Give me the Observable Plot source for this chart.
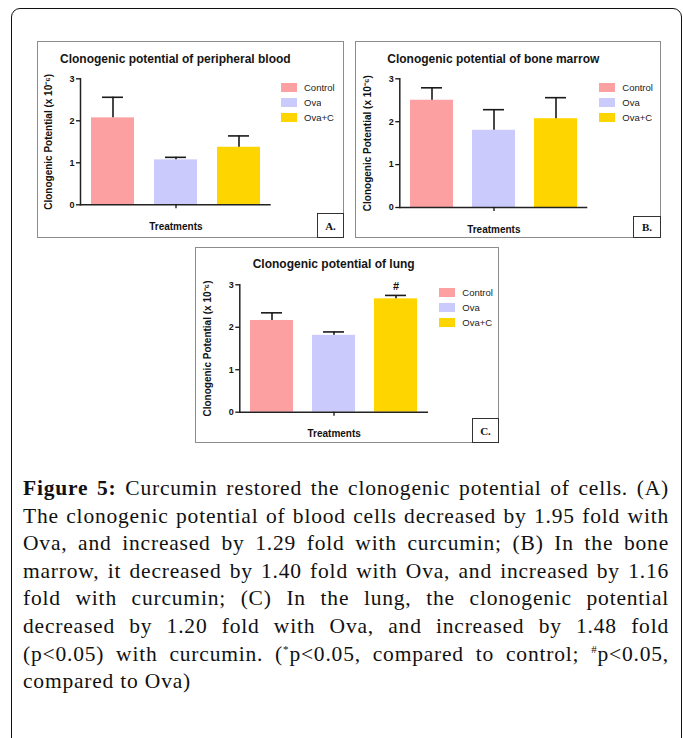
<!DOCTYPE html>
<html><head><meta charset="utf-8">
<script src="https://cdn.jsdelivr.net/npm/d3@7"></script>
<script src="https://cdn.jsdelivr.net/npm/@observablehq/plot@0.6"></script>
<style>
body{margin:0;background:#fff;width:683px;height:738px;overflow:hidden;position:relative;font-family:"Liberation Sans",Arial,sans-serif;}
#frame{position:absolute;left:11px;top:8px;width:671px;height:800px;border:1.5px solid #111;border-radius:9px;box-sizing:border-box;}
.panel{position:absolute;border:1px solid #8c8c8c;box-sizing:border-box;background:#fff;}
.panel > svg{position:absolute;left:0;top:0;overflow:visible;}
.ptitle{position:absolute;font-weight:bold;font-size:12px;white-space:nowrap;line-height:14px;color:#151515;transform:translateX(-50%);}
.tag{position:absolute;right:-1px;bottom:-1px;border:1px solid #333;box-sizing:border-box;font-family:"Liberation Serif",serif;font-weight:bold;font-size:11px;display:flex;align-items:center;justify-content:center;color:#111;background:#fff;}
.legwrap{position:absolute;}
.lg-swatches{margin:0 !important;font-family:"Liberation Sans",Arial,sans-serif !important;font-size:9.5px !important;color:#222;}
.lg-swatch{height:15.2px;padding-bottom:0 !important;margin:0 !important;}
.lg-swatch > svg{margin-right:7px !important;}
#caption{position:absolute;left:23px;top:475px;width:646px;font-family:"Liberation Serif","Times New Roman",serif;font-size:21.5px;line-height:27.6px;color:#111;letter-spacing:0.8px;}
#caption .ln{text-align:justify;text-align-last:justify;}
#caption .ln.last{text-align-last:left;}
#caption sup{font-size:11px;vertical-align:8px;line-height:0;}
</style>
</head>
<body>
<div id="frame"></div>
<div id="caption">
<div class="ln"><b>Figure 5:</b> Curcumin restored the clonogenic potential of cells. (A)</div>
<div class="ln">The clonogenic potential of blood cells decreased by 1.95 fold with</div>
<div class="ln">Ova, and increased by 1.29 fold with curcumin; (B) In the bone</div>
<div class="ln">marrow, it decreased by 1.40 fold with Ova, and increased by 1.16</div>
<div class="ln">fold with curcumin; (C) In the lung, the clonogenic potential</div>
<div class="ln">decreased by 1.20 fold with Ova, and increased by 1.48 fold</div>
<div class="ln">(p&lt;0.05) with curcumin. (<sup>*</sup>p&lt;0.05, compared to control; <sup>#</sup>p&lt;0.05,</div>
<div class="ln last">compared to Ova)</div>
</div>
<script>
const treatments = ["Control", "Ova", "Ova+C"];
const colors = ["#FCA0A2", "#CACAFD", "#FFD500"];
const yTicks = [0, 1, 2, 3];
const bloodMean = [2.07, 1.07, 1.37];
const bloodErr = [0.49, 0.06, 0.27];
const marrowMean = [2.50, 1.80, 2.07];
const marrowErr = [0.29, 0.48, 0.49];
const lungMean = [2.16, 1.81, 2.67];
const lungErr = [0.18, 0.08, 0.08];
const lungSig = ["", "", "#"];
const yLabel = "Clonogenic Potential (x 10⁻⁶)";
const xLabel = "Treatments";

function makePanel(o) {
  const div = document.createElement("div");
  div.className = "panel";
  Object.assign(div.style, {left: o.left + "px", top: o.top + "px", width: o.w + "px", height: o.h + "px"});
  document.body.appendChild(div);
  const cw = o.w - 2, ch = o.h - 2;
  const data = treatments.map((t, i) => ({t, v: o.mean[i], e: o.mean[i] + o.err[i], s: o.sig ? o.sig[i] : ""}));
  const chart = Plot.plot({
    width: cw, height: ch,
    marginLeft: o.mL, marginRight: o.mR, marginTop: o.mT, marginBottom: o.mB,
    style: {fontFamily: "'Liberation Sans', Arial, sans-serif", fontSize: "9px", color: "#111", background: "transparent", overflow: "visible"},
    x: {domain: treatments, paddingInner: 0.31, paddingOuter: 0.155},
    y: {domain: [0, 3]},
    color: {domain: treatments, range: colors},
    marks: [
      Plot.barY(data, {x: "t", y: "v", fill: "t"}),
      Plot.ruleX(data, {x: "t", y1: "v", y2: "e", stroke: "#1a1a1a", strokeWidth: 1.6}),
      Plot.tickY(data, {x: "t", y: "e", stroke: "#1a1a1a", strokeWidth: 1.6, insetLeft: 11, insetRight: 11}),
      Plot.text(data, {x: "t", y: "e", text: "s", dy: -9, fontSize: 11, fontWeight: "bold", fill: "#111"}),
      Plot.ruleY([0], {stroke: "#222", strokeWidth: 1.5}),
      Plot.frame({anchor: "left", stroke: "#222", strokeWidth: 1.5}),
      Plot.axisY({ticks: yTicks, tickFormat: "d", tickSize: 4, tickPadding: 2, strokeWidth: 1.3, label: null, fontWeight: "bold", fontSize: 9}),
      Plot.axisY({ticks: [], tickSize: 0, label: yLabel, labelAnchor: "center", labelArrow: "none", labelOffset: 36, fontWeight: "bold", fontSize: 10}),
      Plot.axisX({ticks: ["Ova"], tickSize: 4, strokeWidth: 1.3, tickFormat: () => "", label: xLabel, labelAnchor: "center", labelArrow: "none", labelOffset: 25, fontWeight: "bold", fontSize: 10})
    ]
  });
  div.appendChild(chart);
  const t = document.createElement("div");
  t.className = "ptitle";
  t.textContent = o.title;
  const cx = o.mL + (cw - o.mL - o.mR) / 2;
  Object.assign(t.style, {left: cx + "px", top: (o.ty - 7) + "px"});
  div.appendChild(t);
  const lw = document.createElement("div");
  lw.className = "legwrap";
  Object.assign(lw.style, {left: o.lx + "px", top: o.ly + "px"});
  lw.appendChild(Plot.legend({color: {type: "ordinal", domain: treatments, range: colors}, columns: 1, swatchWidth: 16, swatchHeight: 9, className: "lg"}));
  div.appendChild(lw);
  const tag = document.createElement("div");
  tag.className = "tag";
  tag.textContent = o.tag;
  Object.assign(tag.style, {width: o.tw + "px", height: o.th + "px"});
  div.appendChild(tag);
}

makePanel({left: 37, top: 41, w: 307, h: 197, mL: 42, mR: 72.3, mT: 36.3, mB: 32.7, title: "Clonogenic potential of peripheral blood", ty: 17, mean: bloodMean, err: bloodErr, lx: 243, ly: 37.5, tag: "A.", tw: 27, th: 25});
makePanel({left: 355, top: 41, w: 306, h: 197, mL: 43.3, mR: 72.7, mT: 36.3, mB: 30, title: "Clonogenic potential of bone marrow", ty: 17.3, mean: marrowMean, err: marrowErr, lx: 243.3, ly: 38, tag: "B.", tw: 28, th: 22});
makePanel({left: 195, top: 247, w: 304, h: 196, mL: 43.3, mR: 70, mT: 36.3, mB: 30.3, title: "Clonogenic potential of lung", ty: 16.3, mean: lungMean, err: lungErr, sig: lungSig, lx: 243.3, ly: 36.7, tag: "C.", tw: 27, th: 25});
</script>
</body></html>
